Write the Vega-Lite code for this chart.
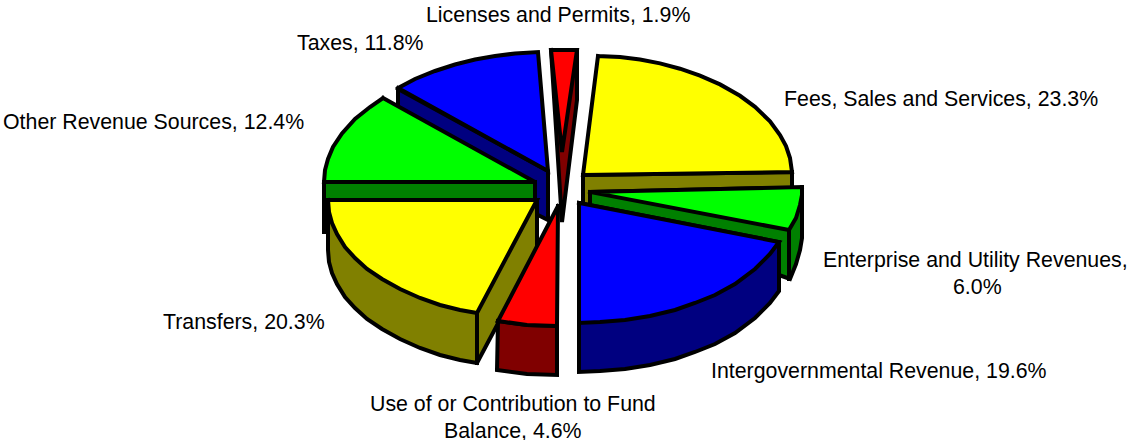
{"$schema":"https://vega.github.io/schema/vega-lite/v6.json","width":1128,"height":440,"padding":0,"autosize":"none","background":"white","config":{"view":{"stroke":null}},
"layer":[
{"data":{"values":[
{"p":"a1","c":"navy","i":0,"x":398,"y":89},{"p":"a1","c":"navy","i":1,"x":548,"y":171},{"p":"a1","c":"navy","i":2,"x":548,"y":220},{"p":"a1","c":"navy","i":3,"x":538,"y":215},{"p":"a1","c":"navy","i":4,"x":398,"y":134},{"p":"a1","c":"navy","i":5,"x":398,"y":89},
{"p":"a2","c":"blue","i":0,"x":398,"y":88},{"p":"a2","c":"blue","i":1,"x":415,"y":79},{"p":"a2","c":"blue","i":2,"x":435,"y":71},{"p":"a2","c":"blue","i":3,"x":455,"y":64.5},{"p":"a2","c":"blue","i":4,"x":475,"y":59.5},{"p":"a2","c":"blue","i":5,"x":495,"y":56},{"p":"a2","c":"blue","i":6,"x":515,"y":53.5},{"p":"a2","c":"blue","i":7,"x":538,"y":52},{"p":"a2","c":"blue","i":8,"x":548,"y":171},{"p":"a2","c":"blue","i":9,"x":398,"y":88},
{"p":"b1","c":"darkgreen","i":0,"x":324,"y":182},{"p":"b1","c":"darkgreen","i":1,"x":535,"y":182},{"p":"b1","c":"darkgreen","i":2,"x":535,"y":232},{"p":"b1","c":"darkgreen","i":3,"x":324,"y":232},{"p":"b1","c":"darkgreen","i":4,"x":324,"y":182},
{"p":"b2","c":"green","i":0,"x":383,"y":98},{"p":"b2","c":"green","i":1,"x":370,"y":107},{"p":"b2","c":"green","i":2,"x":355,"y":119},{"p":"b2","c":"green","i":3,"x":342,"y":133.5},{"p":"b2","c":"green","i":4,"x":333,"y":147},{"p":"b2","c":"green","i":5,"x":328,"y":159},{"p":"b2","c":"green","i":6,"x":325,"y":170},{"p":"b2","c":"green","i":7,"x":324,"y":182},{"p":"b2","c":"green","i":8,"x":535,"y":182},{"p":"b2","c":"green","i":9,"x":383,"y":98},
{"p":"c1","c":"olive","i":0,"x":537,"y":200},{"p":"c1","c":"olive","i":1,"x":537,"y":250},{"p":"c1","c":"olive","i":2,"x":477,"y":363},{"p":"c1","c":"olive","i":3,"x":460,"y":360},{"p":"c1","c":"olive","i":4,"x":440,"y":355},{"p":"c1","c":"olive","i":5,"x":420,"y":348},{"p":"c1","c":"olive","i":6,"x":400,"y":339},{"p":"c1","c":"olive","i":7,"x":382,"y":329},{"p":"c1","c":"olive","i":8,"x":367,"y":319},{"p":"c1","c":"olive","i":9,"x":355,"y":308},{"p":"c1","c":"olive","i":10,"x":345,"y":297},{"p":"c1","c":"olive","i":11,"x":337,"y":284},{"p":"c1","c":"olive","i":12,"x":332,"y":273},{"p":"c1","c":"olive","i":13,"x":329,"y":262},{"p":"c1","c":"olive","i":14,"x":328,"y":250},{"p":"c1","c":"olive","i":15,"x":328,"y":200},{"p":"c1","c":"olive","i":16,"x":537,"y":200},
{"p":"c2","c":"yellow","i":0,"x":328,"y":200},{"p":"c2","c":"yellow","i":1,"x":329,"y":212},{"p":"c2","c":"yellow","i":2,"x":332,"y":223},{"p":"c2","c":"yellow","i":3,"x":337,"y":234},{"p":"c2","c":"yellow","i":4,"x":345,"y":247},{"p":"c2","c":"yellow","i":5,"x":355,"y":258},{"p":"c2","c":"yellow","i":6,"x":367,"y":269},{"p":"c2","c":"yellow","i":7,"x":382,"y":279},{"p":"c2","c":"yellow","i":8,"x":400,"y":289},{"p":"c2","c":"yellow","i":9,"x":420,"y":298},{"p":"c2","c":"yellow","i":10,"x":440,"y":305},{"p":"c2","c":"yellow","i":11,"x":460,"y":310},{"p":"c2","c":"yellow","i":12,"x":477,"y":313},{"p":"c2","c":"yellow","i":13,"x":537,"y":200},{"p":"c2","c":"yellow","i":14,"x":328,"y":200},
{"p":"c3","c":"none","i":0,"x":477,"y":313},{"p":"c3","c":"none","i":1,"x":477,"y":363},
{"p":"d1","c":"maroon","i":0,"x":498,"y":321},{"p":"d1","c":"maroon","i":1,"x":527,"y":325},{"p":"d1","c":"maroon","i":2,"x":557,"y":326},{"p":"d1","c":"maroon","i":3,"x":557,"y":375},{"p":"d1","c":"maroon","i":4,"x":527,"y":374},{"p":"d1","c":"maroon","i":5,"x":497,"y":370},{"p":"d1","c":"maroon","i":6,"x":498,"y":321},
{"p":"d2","c":"red","i":0,"x":558,"y":206},{"p":"d2","c":"red","i":1,"x":498,"y":321},{"p":"d2","c":"red","i":2,"x":527,"y":325},{"p":"d2","c":"red","i":3,"x":557,"y":326},{"p":"d2","c":"red","i":4,"x":558,"y":206},
{"p":"e1","c":"maroon","i":0,"x":551,"y":50},{"p":"e1","c":"maroon","i":1,"x":577,"y":50},{"p":"e1","c":"maroon","i":2,"x":577,"y":100},{"p":"e1","c":"maroon","i":3,"x":562,"y":222},{"p":"e1","c":"maroon","i":4,"x":551,"y":50},
{"p":"e2","c":"red","i":0,"x":551,"y":50},{"p":"e2","c":"red","i":1,"x":577,"y":50},{"p":"e2","c":"red","i":2,"x":562,"y":152},{"p":"e2","c":"red","i":3,"x":551,"y":50},
{"p":"f1","c":"olive","i":0,"x":583,"y":175},{"p":"f1","c":"olive","i":1,"x":792,"y":172},{"p":"f1","c":"olive","i":2,"x":792,"y":205},{"p":"f1","c":"olive","i":3,"x":583,"y":205},{"p":"f1","c":"olive","i":4,"x":583,"y":175},
{"p":"f2","c":"yellow","i":0,"x":598,"y":56},{"p":"f2","c":"yellow","i":1,"x":620,"y":57},{"p":"f2","c":"yellow","i":2,"x":640,"y":59.6},{"p":"f2","c":"yellow","i":3,"x":660,"y":63.4},{"p":"f2","c":"yellow","i":4,"x":680,"y":68.7},{"p":"f2","c":"yellow","i":5,"x":700,"y":75.6},{"p":"f2","c":"yellow","i":6,"x":720,"y":84.4},{"p":"f2","c":"yellow","i":7,"x":740,"y":95.8},{"p":"f2","c":"yellow","i":8,"x":755,"y":106.8},{"p":"f2","c":"yellow","i":9,"x":770,"y":121.4},{"p":"f2","c":"yellow","i":10,"x":780,"y":135},{"p":"f2","c":"yellow","i":11,"x":786,"y":146},{"p":"f2","c":"yellow","i":12,"x":790,"y":158},{"p":"f2","c":"yellow","i":13,"x":792,"y":172},{"p":"f2","c":"yellow","i":14,"x":583,"y":175},{"p":"f2","c":"yellow","i":15,"x":598,"y":56},
{"p":"g1","c":"darkgreen","i":0,"x":802,"y":187},{"p":"g1","c":"darkgreen","i":1,"x":802,"y":238},{"p":"g1","c":"darkgreen","i":2,"x":800,"y":250},{"p":"g1","c":"darkgreen","i":3,"x":796,"y":264},{"p":"g1","c":"darkgreen","i":4,"x":790,"y":279},{"p":"g1","c":"darkgreen","i":5,"x":779,"y":275},{"p":"g1","c":"darkgreen","i":6,"x":590,"y":240},{"p":"g1","c":"darkgreen","i":7,"x":590,"y":192},{"p":"g1","c":"darkgreen","i":8,"x":802,"y":187},
{"p":"g2","c":"none","i":0,"x":789,"y":230},{"p":"g2","c":"none","i":1,"x":789,"y":279},
{"p":"g3","c":"green","i":0,"x":590,"y":192},{"p":"g3","c":"green","i":1,"x":802,"y":187},{"p":"g3","c":"green","i":2,"x":802,"y":195},{"p":"g3","c":"green","i":3,"x":800,"y":205},{"p":"g3","c":"green","i":4,"x":796,"y":218},{"p":"g3","c":"green","i":5,"x":789,"y":230},{"p":"g3","c":"green","i":6,"x":590,"y":192},
{"p":"h1","c":"navy","i":0,"x":779,"y":242},{"p":"h1","c":"navy","i":1,"x":779,"y":291},{"p":"h1","c":"navy","i":2,"x":770,"y":303},{"p":"h1","c":"navy","i":3,"x":755,"y":318},{"p":"h1","c":"navy","i":4,"x":735,"y":333},{"p":"h1","c":"navy","i":5,"x":715,"y":344},{"p":"h1","c":"navy","i":6,"x":695,"y":352},{"p":"h1","c":"navy","i":7,"x":675,"y":359},{"p":"h1","c":"navy","i":8,"x":650,"y":365},{"p":"h1","c":"navy","i":9,"x":625,"y":369},{"p":"h1","c":"navy","i":10,"x":600,"y":371},{"p":"h1","c":"navy","i":11,"x":579,"y":372},{"p":"h1","c":"navy","i":12,"x":579,"y":203},{"p":"h1","c":"navy","i":13,"x":779,"y":242},
{"p":"h2","c":"blue","i":0,"x":579,"y":203},{"p":"h2","c":"blue","i":1,"x":779,"y":242},{"p":"h2","c":"blue","i":2,"x":770,"y":254},{"p":"h2","c":"blue","i":3,"x":755,"y":269},{"p":"h2","c":"blue","i":4,"x":735,"y":284},{"p":"h2","c":"blue","i":5,"x":715,"y":295},{"p":"h2","c":"blue","i":6,"x":695,"y":303},{"p":"h2","c":"blue","i":7,"x":675,"y":310},{"p":"h2","c":"blue","i":8,"x":650,"y":316},{"p":"h2","c":"blue","i":9,"x":625,"y":320},{"p":"h2","c":"blue","i":10,"x":600,"y":322},{"p":"h2","c":"blue","i":11,"x":579,"y":323},{"p":"h2","c":"blue","i":12,"x":579,"y":203}
]},
"mark":{"type":"line","stroke":"black","strokeWidth":4,"strokeJoin":"miter","strokeCap":"square","clip":false},
"encoding":{"x":{"field":"x","type":"quantitative","scale":{"domain":[0,1128]},"axis":null},"y":{"field":"y","type":"quantitative","scale":{"domain":[440,0]},"axis":null},"detail":{"field":"p"},"order":{"field":"i","type":"quantitative"},"fill":{"field":"c","type":"nominal","legend":null,"scale":{"domain":["blue","navy","green","darkgreen","yellow","olive","red","maroon","none"],"range":["#0000ff","#000080","#00ff00","#008000","#ffff00","#808000","#ff0000","#800000","transparent"]}}}},
{"data":{"values":[
{"label":"Licenses and Permits, 1.9%","x":426,"y":22},{"label":"Taxes, 11.8%","x":297,"y":50},{"label":"Fees, Sales and Services, 23.3%","x":784,"y":106},{"label":"Other Revenue Sources, 12.4%","x":3,"y":129},{"label":"Enterprise and Utility Revenues,","x":823,"y":267},{"label":"6.0%","x":953,"y":294},{"label":"Intergovernmental Revenue, 19.6%","x":711,"y":378},{"label":"Transfers, 20.3%","x":163,"y":329},{"label":"Use of or Contribution to Fund","x":370,"y":411},{"label":"Balance, 4.6%","x":444,"y":438}
]},
"mark":{"type":"text","font":"Liberation Sans","fontSize":21.33,"align":"left","baseline":"alphabetic","color":"#000000"},
"encoding":{"x":{"field":"x","type":"quantitative","scale":{"domain":[0,1128]},"axis":null},"y":{"field":"y","type":"quantitative","scale":{"domain":[440,0]},"axis":null},"text":{"field":"label"}}}
]}
